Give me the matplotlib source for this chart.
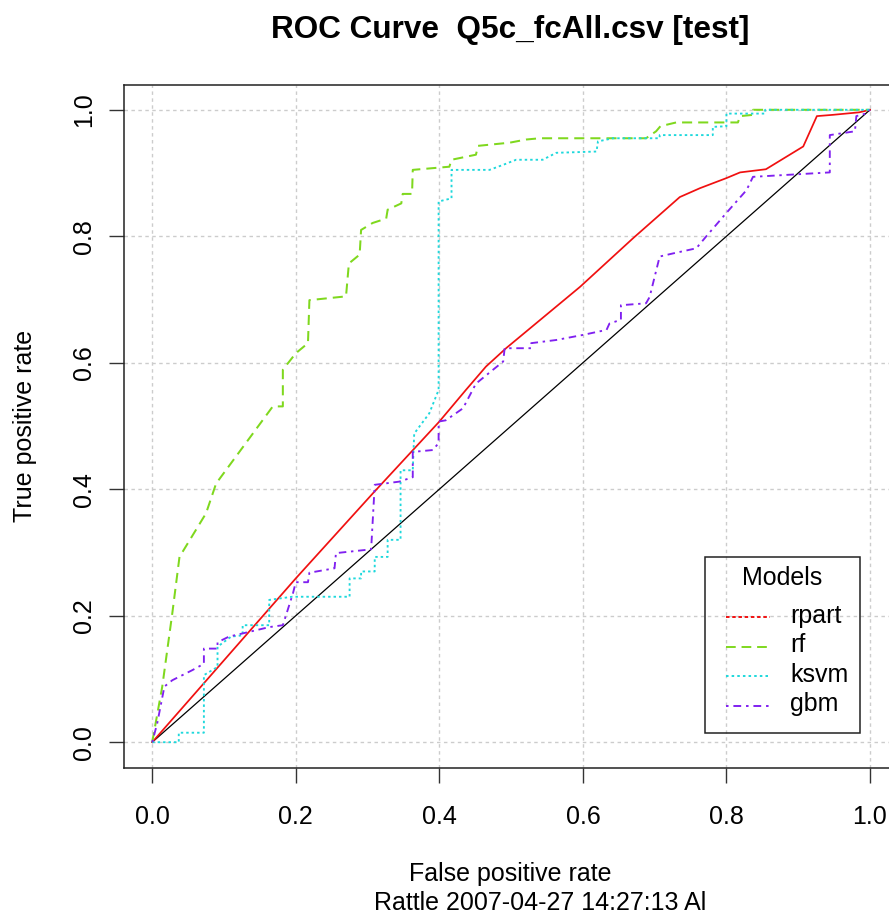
import matplotlib
matplotlib.use("Agg")
import matplotlib.pyplot as plt
from matplotlib.lines import Line2D
from matplotlib.patches import Rectangle

plt.rcParams['font.family'] = ['Liberation Sans', 'DejaVu Sans']

# ---- data ----
rpart_fpr = [0, 0.2, 0.307, 0.4, 0.437, 0.465, 0.493, 0.596, 0.67, 0.735, 0.763, 0.8, 0.819, 0.855, 0.907, 0.926, 0.948, 0.985, 1.0]
rpart_tpr = [0, 0.259, 0.393, 0.507, 0.557, 0.594, 0.623, 0.72, 0.797, 0.862, 0.876, 0.892, 0.901, 0.906, 0.942, 0.99, 0.992, 0.996, 1.0]

rf_fpr = [0, 0.014, 0.028, 0.038, 0.075, 0.089, 0.168, 0.182, 0.182, 0.2, 0.217, 0.219, 0.27, 0.274, 0.289, 0.291, 0.307, 0.326, 0.328, 0.347, 0.349, 0.362, 0.363, 0.414, 0.417, 0.451, 0.454, 0.498, 0.521, 0.54, 0.688, 0.702, 0.708, 0.73, 0.8, 0.816, 0.819, 0.837, 0.837, 1.0]
rf_tpr = [0, 0.088, 0.204, 0.293, 0.362, 0.409, 0.531, 0.531, 0.589, 0.615, 0.631, 0.699, 0.705, 0.757, 0.771, 0.81, 0.821, 0.828, 0.842, 0.852, 0.867, 0.867, 0.905, 0.91, 0.921, 0.929, 0.943, 0.948, 0.953, 0.955, 0.955, 0.966, 0.974, 0.98, 0.98, 0.98, 0.99, 0.992, 1.0, 1.0]

ksvm_fpr = [0, 0.037, 0.037, 0.072, 0.072, 0.091, 0.091, 0.11, 0.126, 0.126, 0.163, 0.163, 0.195, 0.275, 0.275, 0.291, 0.291, 0.31, 0.31, 0.328, 0.328, 0.346, 0.346, 0.363, 0.365, 0.386, 0.399, 0.399, 0.417, 0.417, 0.47, 0.489, 0.507, 0.544, 0.563, 0.619, 0.621, 0.642, 0.707, 0.707, 0.781, 0.781, 0.8, 0.8, 0.854, 0.854, 1.0]
ksvm_tpr = [0, 0, 0.015, 0.015, 0.106, 0.119, 0.151, 0.167, 0.169, 0.185, 0.185, 0.225, 0.23, 0.23, 0.259, 0.259, 0.27, 0.27, 0.293, 0.293, 0.32, 0.32, 0.43, 0.43, 0.488, 0.52, 0.557, 0.855, 0.86, 0.905, 0.905, 0.913, 0.921, 0.921, 0.932, 0.934, 0.95, 0.955, 0.955, 0.96, 0.96, 0.973, 0.974, 0.994, 0.994, 1.0, 1.0]

gbm_fpr = [0, 0.007, 0.017, 0.028, 0.056, 0.072, 0.072, 0.091, 0.091, 0.107, 0.126, 0.163, 0.182, 0.196, 0.2, 0.217, 0.219, 0.254, 0.256, 0.305, 0.31, 0.344, 0.363, 0.363, 0.391, 0.399, 0.399, 0.409, 0.433, 0.451, 0.489, 0.491, 0.528, 0.528, 0.563, 0.6, 0.633, 0.637, 0.653, 0.653, 0.688, 0.693, 0.707, 0.726, 0.758, 0.772, 0.8, 0.828, 0.837, 0.944, 0.944, 0.979, 0.981, 0.994, 1.0]
gbm_tpr = [0, 0.03, 0.088, 0.098, 0.114, 0.124, 0.148, 0.148, 0.158, 0.167, 0.172, 0.182, 0.185, 0.235, 0.253, 0.253, 0.268, 0.275, 0.299, 0.305, 0.407, 0.412, 0.419, 0.459, 0.462, 0.473, 0.507, 0.509, 0.528, 0.567, 0.602, 0.623, 0.623, 0.631, 0.636, 0.644, 0.652, 0.662, 0.668, 0.691, 0.694, 0.704, 0.768, 0.773, 0.781, 0.8, 0.837, 0.873, 0.894, 0.901, 0.96, 0.966, 0.99, 0.994, 1.0]

models = ['rpart', 'rf', 'ksvm', 'gbm']
ticks = [0.0, 0.2, 0.4, 0.6, 0.8, 1.0]
tick_labels = ['0.0', '0.2', '0.4', '0.6', '0.8', '1.0']

# ---- styles ----
colors = ['#F01010', '#7FD81E', '#1ED8DC', '#8020F0']
styles = [(0, (1.8, 1.4)), (0, (5, 3)), (0, (1.3, 1.6)), (0, (1.3, 2.5, 4, 2.5))]
W, H = 889, 919
fig = plt.figure(figsize=(W / 100, H / 100), dpi=100)

def fx(px):
    return px / W

def fy(py):
    return 1 - py / H

left, right, top, bottom = 123.5, 898.7, 84.5, 767.5
ax = fig.add_axes([fx(left), fy(bottom), fx(right - left), (bottom - top) / H])
ax.set_xlim(-0.04, 1.04)
ax.set_ylim(-0.04, 1.04)

# grid
for t in ticks:
    ax.axvline(t, color='#cccccc', lw=1.0, ls=(0, (2.5, 2.5)), zorder=0)
    ax.axhline(t, color='#cccccc', lw=1.0, ls=(0, (2.5, 2.5)), zorder=0)

lw = 1.25
ax.plot(rpart_fpr, rpart_tpr, color=colors[0], lw=lw, ls='-', zorder=3)
ax.plot(rf_fpr, rf_tpr, color=colors[1], lw=lw + 0.2, ls=styles[1], zorder=3)
ax.plot(ksvm_fpr, ksvm_tpr, color=colors[2], lw=lw + 0.1, ls=styles[2], zorder=3)
ax.plot(gbm_fpr, gbm_tpr, color=colors[3], lw=lw + 0.1, ls=styles[3], zorder=3)
ax.plot([0, 1], [0, 1], color='black', lw=0.9, zorder=2)

ax.set_xticks(ticks)
ax.set_xticklabels(tick_labels, fontsize=18)
ax.set_yticks(ticks)
ax.set_yticklabels(tick_labels, fontsize=18, rotation=90, va='center')
ax.tick_params(axis='both', direction='out', length=11, width=1.0, color='#333333')
ax.tick_params(axis='x', pad=16)
ax.tick_params(axis='y', pad=9)
for s in ax.spines.values():
    s.set_linewidth(1.1)
    s.set_color('#222222')

# legend (drawn by hand to match the R layout)
fig.patches.append(Rectangle((fx(705), fy(733)), fx(860 - 705), (733 - 557) / H,
                             transform=fig.transFigure, facecolor='none',
                             edgecolor='#222222', lw=1.1, zorder=5))
fig.text(fx(782), fy(578), 'Models', ha='center', va='center', fontsize=18)
entry_y = [616.5, 646.5, 676, 705.5]
for name, c, st, yy in zip(models, colors, styles, entry_y):
    fig.add_artist(Line2D([fx(726), fx(770)], [fy(yy), fy(yy)], transform=fig.transFigure,
                          color=c, lw=1.4, ls=st))
    fig.text(fx(790), fy(yy - 1), name, ha='left', va='center', fontsize=18)

# texts
fig.text(fx(510), fy(30), 'ROC Curve  Q5c_fcAll.csv [test]', ha='center', va='center',
         fontsize=22.7, fontweight='bold')
fig.text(fx(510), fy(874), 'False positive rate', ha='center', va='center', fontsize=18)
fig.text(fx(374), fy(903), 'Rattle 2007-04-27 14:27:13 Al', ha='left', va='center', fontsize=18)
fig.text(fx(25), fy(426), 'True positive rate', ha='center', va='center', fontsize=18, rotation=90)

fig.savefig('out.png', dpi=100)
